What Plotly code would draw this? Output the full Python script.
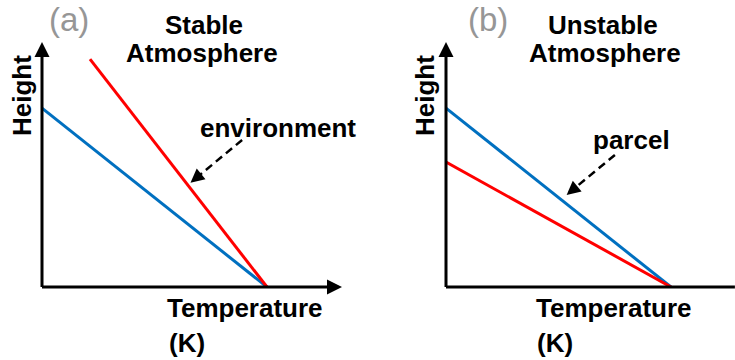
import plotly.graph_objects as go

# Schematic lapse-rate profiles (temperature in arbitrary units, height in arbitrary units)
stable_parcel_T = [0, 75]
stable_parcel_H = [73, 0]
stable_env_T = [16, 75]
stable_env_H = [93, 0]

unstable_parcel_T = [0, 75]
unstable_parcel_H = [73, 0]
unstable_env_T = [0, 75]
unstable_env_H = [51, 0]

# Pointer arrows: (tail, head) in data units
env_pointer = [(66.7, 60.0), (49.5, 42.6)]
parcel_pointer = [(56.3, 53.9), (40.2, 37.6)]

BLUE = "#0070C0"
RED = "#FF0000"
FONT = "Liberation Sans, Arial, sans-serif"
W, H = 735, 360

fig = go.Figure()

def line(x, y, color, xa, ya):
    fig.add_trace(go.Scatter(x=x, y=y, mode="lines", line=dict(color=color, width=3),
                             xaxis=xa, yaxis=ya, showlegend=False, hoverinfo="skip"))

line(stable_parcel_T, stable_parcel_H, BLUE, "x", "y")
line(stable_env_T, stable_env_H, RED, "x", "y")
line(unstable_parcel_T, unstable_parcel_H, BLUE, "x2", "y2")
line(unstable_env_T, unstable_env_H, RED, "x2", "y2")

annotations = []

def pointer(p, xa, ya):
    (x0, y0), (x1, y1) = p
    # dashed shaft stops just short of the head
    f = 0.84
    xm, ym = x0 + (x1 - x0) * f, y0 + (y1 - y0) * f
    fig.add_trace(go.Scatter(x=[x0, xm], y=[y0, ym], mode="lines",
                             line=dict(color="black", width=2.5, dash="8px,5px"),
                             xaxis=xa, yaxis=ya, showlegend=False, hoverinfo="skip"))
    annotations.append(dict(x=x1, y=y1, ax=xm, ay=ym, xref=xa, yref=ya,
                            axref=xa, ayref=ya, text="", showarrow=True,
                            arrowhead=2, arrowsize=1.1, arrowwidth=2.5,
                            arrowcolor="black"))

pointer(env_pointer, "x", "y")
pointer(parcel_pointer, "x2", "y2")

def axis_arrow(xa, ya, tip, tail, head=2):
    annotations.append(dict(x=tip[0], y=tip[1], ax=tail[0], ay=tail[1],
                            xref=xa, yref=ya, axref=xa, ayref=ya, text="",
                            showarrow=True, arrowhead=head, arrowsize=1,
                            arrowwidth=3, arrowcolor="black"))

axis_arrow("x", "y", (0, 100), (0, -0.6))
axis_arrow("x", "y", (100, 0), (-0.5, 0))
axis_arrow("x2", "y2", (0, 100), (0, -0.6))
axis_arrow("x2", "y2", (96.3, 0), (-0.5, 0), head=0)

def label(text, px, py, size=26, color="black", bold=True, xanchor="center", angle=0):
    # px, py: position on the page in pixels from the top-left corner
    annotations.append(dict(x=px / W, y=(H - py) / H, xref="paper", yref="paper",
                            text=f"<b>{text}</b>" if bold else text,
                            showarrow=False, xanchor=xanchor, yanchor="middle",
                            textangle=angle,
                            font=dict(family=FONT, size=size, color=color)))

label("(a)", 68.5, 19, size=33, color="#969696", bold=False)
label("Stable", 203.5, 25)
label("Atmosphere", 202.5, 52.5)
label("environment", 277.5, 128)
label("Height", 22, 96, angle=-90)
label("Temperature", 245, 308)
label("(K)", 167, 343, xanchor="left")

label("(b)", 488, 19, size=33, color="#969696", bold=False)
label("Unstable", 603, 25)
label("Atmosphere", 605, 52.5)
label("parcel", 631.5, 140)
label("Height", 425, 96, angle=-90)
label("Temperature", 613.5, 308)
label("(K)", 535, 343, xanchor="left")

hidden = dict(showgrid=False, zeroline=False, showticklabels=False,
              showline=False, ticks="", fixedrange=True)

y_dom = [(H - 287) / H, (H - 42) / H]
fig.update_layout(
    width=W, height=H,
    margin=dict(l=0, r=0, t=0, b=0),
    paper_bgcolor="white", plot_bgcolor="white",
    xaxis=dict(domain=[42 / W, 342 / W], range=[0, 100], **hidden),
    yaxis=dict(domain=y_dom, range=[0, 100], **hidden),
    xaxis2=dict(domain=[446 / W, 1.0], range=[0, 289 / 3], anchor="y2", **hidden),
    yaxis2=dict(domain=y_dom, range=[0, 100], anchor="x2", **hidden),
    annotations=annotations,
)

fig.write_html("out.html")
